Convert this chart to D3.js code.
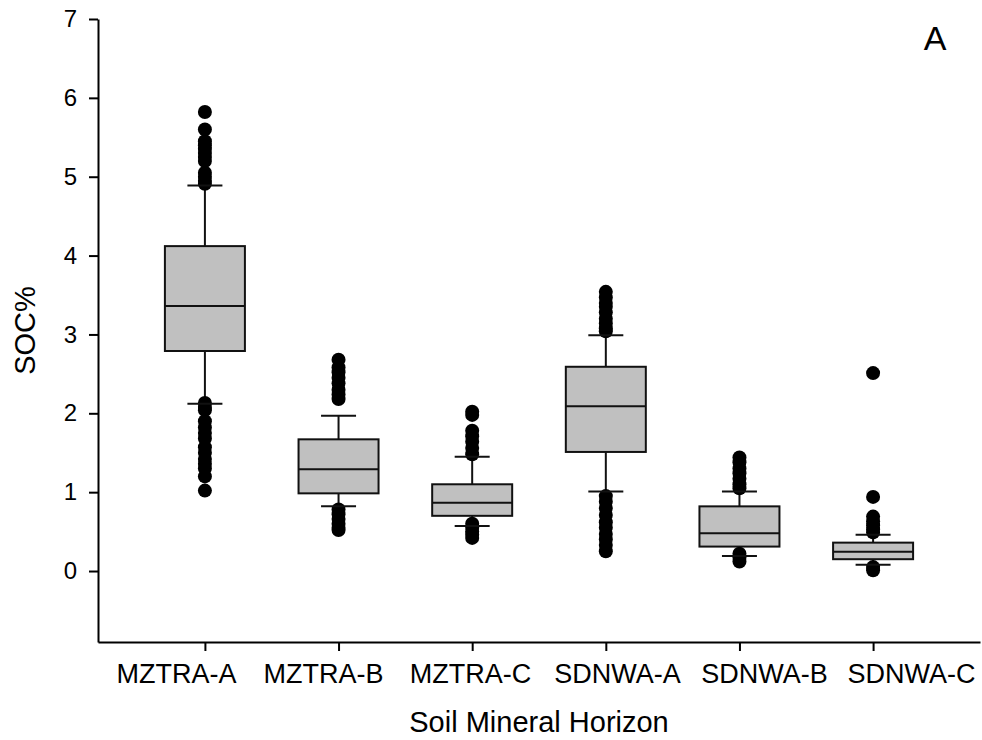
<!DOCTYPE html>
<html>
<head>
<meta charset="utf-8">
<script src="https://cdn.jsdelivr.net/npm/d3@7"></script>
<style>
  html, body { margin: 0; padding: 0; background: #fff; }
  svg { display: block; font-family: "Liberation Sans", Arial, sans-serif; }
</style>
</head>
<body>
<svg id="chart" width="982" height="740"></svg>
<script>
// Soil organic carbon by mineral horizon
const categories = ["MZTRA-A", "MZTRA-B", "MZTRA-C", "SDNWA-A", "SDNWA-B", "SDNWA-C"];

// Box statistics per horizon
const lowerWhisker = [2.12, 0.82, 0.57, 1.01, 0.19, 0.08];
const q1 =           [2.79, 0.985, 0.70, 1.51, 0.31, 0.15];
const median =       [3.36, 1.29, 0.866, 2.09, 0.48, 0.245];
const q3 =           [4.12, 1.67, 1.10, 2.59, 0.82, 0.36];
const upperWhisker = [4.89, 1.97, 1.45, 2.99, 1.01, 0.46];

// Outlying observations per horizon
const outliers = [
  [5.82, 5.60, 5.45, 5.40, 5.35, 5.30, 5.25, 5.20, 5.05, 5.00, 4.95, 4.91,
   2.13, 2.08, 2.04, 1.90, 1.82, 1.75, 1.68, 1.57, 1.50, 1.42, 1.36, 1.30, 1.20, 1.02],
  [2.68, 2.58, 2.52, 2.45, 2.38, 2.30, 2.24, 2.18,
   0.78, 0.72, 0.66, 0.60, 0.55, 0.52],
  [2.02, 1.98, 1.78, 1.71, 1.64, 1.56, 1.48,
   0.60, 0.55, 0.50, 0.46, 0.42],
  [3.54, 3.47, 3.40, 3.35, 3.28, 3.20, 3.14, 3.08, 3.04,
   0.95, 0.88, 0.80, 0.71, 0.62, 0.55, 0.47, 0.40, 0.33, 0.25],
  [1.44, 1.38, 1.30, 1.24, 1.17, 1.10, 1.05,
   0.22, 0.17, 0.12],
  [2.51, 0.94, 0.69, 0.63, 0.58, 0.53, 0.49,
   0.05, 0.01]
];

const yTicks = [0, 1, 2, 3, 4, 5, 6, 7];
const yDomain = [-0.9, 7];

const svg = d3.select("#chart");
const plotLeft = 98, plotRight = 980, plotTop = 19, plotBottom = 642;

const x = d3.scalePoint().domain(categories).range([plotLeft, plotRight]).padding(0.8);
const xLabel = d3.scaleBand().domain(categories).range([plotLeft + 5, plotRight + 5]).padding(0);
const y = d3.scaleLinear().domain(yDomain).range([plotBottom, plotTop]);

const boxW = 80, capW = 35, dotR = 7;

function applyStroke(sel) { sel.attr("stroke", "#111").attr("stroke-width", 2); return sel; }

// Axes
const yAxis = svg.append("g")
  .attr("transform", `translate(${plotLeft},0)`)
  .call(d3.axisLeft(y).tickValues(yTicks).tickFormat(d3.format("d"))
    .tickSize(9).tickSizeOuter(0).tickPadding(12));
yAxis.selectAll("path, line").attr("stroke", "#000").attr("stroke-width", 2);
yAxis.selectAll("text").attr("font-size", 24).attr("fill", "#000")
  .attr("font-family", "Liberation Sans, Arial, sans-serif");

const xAxis = svg.append("g")
  .attr("transform", `translate(0,${plotBottom})`)
  .call(d3.axisBottom(x).tickSize(9).tickSizeOuter(0).tickFormat(""));
xAxis.selectAll("path, line").attr("stroke", "#000").attr("stroke-width", 2);

svg.append("g").selectAll("text")
  .data(categories)
  .join("text")
  .attr("x", d => xLabel(d) + xLabel.bandwidth() / 2)
  .attr("y", 683)
  .attr("text-anchor", "middle")
  .attr("font-size", 27)
  .attr("fill", "#000")
  .text(d => d);

// Axis titles
svg.append("text")
  .attr("x", (plotLeft + plotRight) / 2)
  .attr("y", 732)
  .attr("text-anchor", "middle")
  .attr("font-size", 29)
  .text("Soil Mineral Horizon");

svg.append("text")
  .attr("transform", `translate(35,${(plotTop + plotBottom) / 2}) rotate(-90)`)
  .attr("text-anchor", "middle")
  .attr("font-size", 29)
  .text("SOC%");

svg.append("text")
  .attr("x", 935)
  .attr("y", 50)
  .attr("text-anchor", "middle")
  .attr("font-size", 34)
  .text("A");

// Boxes, whiskers and outliers
const groups = svg.append("g").selectAll("g")
  .data(categories.map((c, i) => ({
    c, lw: lowerWhisker[i], q1: q1[i], med: median[i], q3: q3[i], uw: upperWhisker[i], out: outliers[i]
  })))
  .join("g")
  .attr("transform", d => `translate(${x(d.c)},0)`);

// whisker stems
groups.append("line").attr("x1", 0).attr("x2", 0)
  .attr("y1", d => y(d.uw)).attr("y2", d => y(d.q3)).call(applyStroke);
groups.append("line").attr("x1", 0).attr("x2", 0)
  .attr("y1", d => y(d.q1)).attr("y2", d => y(d.lw)).call(applyStroke);

// box
groups.append("rect")
  .attr("x", -boxW / 2).attr("width", boxW)
  .attr("y", d => y(d.q3)).attr("height", d => y(d.q1) - y(d.q3))
  .attr("fill", "#c0c0c0").call(applyStroke);
groups.append("line").attr("x1", -boxW / 2).attr("x2", boxW / 2)
  .attr("y1", d => y(d.med)).attr("y2", d => y(d.med)).call(applyStroke);

// outliers (drawn before caps so the caps stay visible)
groups.selectAll("circle")
  .data(d => d.out)
  .join("circle")
  .attr("cx", 0).attr("cy", v => y(v)).attr("r", dotR)
  .attr("fill", "#000");

// caps
groups.append("line").attr("x1", -capW / 2).attr("x2", capW / 2)
  .attr("y1", d => y(d.uw)).attr("y2", d => y(d.uw)).call(applyStroke);
groups.append("line").attr("x1", -capW / 2).attr("x2", capW / 2)
  .attr("y1", d => y(d.lw)).attr("y2", d => y(d.lw)).call(applyStroke);
</script>
</body>
</html>
